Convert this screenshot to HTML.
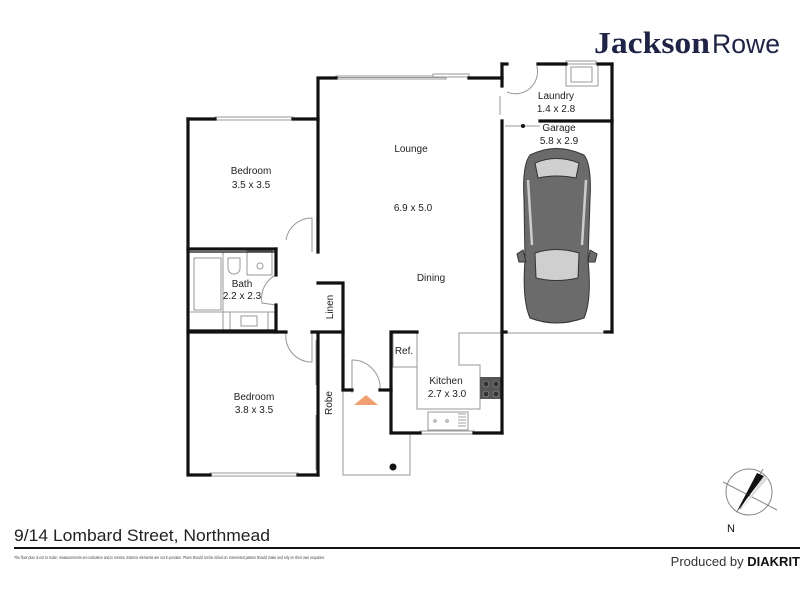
<!DOCTYPE html>
<html><head><meta charset="utf-8"><style>
html,body{margin:0;padding:0;background:#fff;width:800px;height:600px;overflow:hidden}
svg{display:block}
text{font-family:"Liberation Sans",Arial,sans-serif}
</style></head><body>
<svg width="800" height="600" viewBox="0 0 800 600" xmlns="http://www.w3.org/2000/svg">
<!-- Logo -->
<text x="594" y="53" font-weight="bold" font-size="31" fill="#1f2446" textLength="116" lengthAdjust="spacingAndGlyphs" style="font-family:'Liberation Serif',serif">Jackson</text>
<text x="712" y="53" font-size="27" fill="#1f2446" textLength="68" lengthAdjust="spacingAndGlyphs">Rowe</text>

<!-- thin interior/fixture lines -->
<g fill="none" stroke="#999" stroke-width="1">
  <rect x="336" y="76" width="110" height="3" fill="#fff"/>
  <line x1="336" y1="77.5" x2="446" y2="77.5"/>
  <rect x="433" y="74" width="36" height="3" fill="#fff"/>
  <rect x="215" y="117" width="78" height="3" fill="#fff"/>
  <rect x="210" y="473" width="88" height="3" fill="#fff"/>
  <rect x="420" y="431" width="54" height="3" fill="#fff"/>
  <rect x="566" y="61" width="30" height="3" fill="#fff"/>
  <path d="M507 92 A22 22 0 0 0 537 67"/>
  <line x1="537" y1="66" x2="537" y2="67"/>
  <line x1="500" y1="96" x2="500" y2="115"/>
  <rect x="566" y="64" width="32" height="22"/>
  <rect x="571" y="67" width="21" height="15"/>
  <line x1="505" y1="126" x2="540" y2="126"/>
  <path d="M286 240 A26 26 0 0 1 312 218 L312 252"/>
  <path d="M276 275 A26 26 0 0 0 262 303 L276 305"/>
  <rect x="194" y="258" width="27" height="52"/>
  <path d="M228 258 v10 a6 6 0 0 0 12 0 v-10 z"/>
  <rect x="247" y="251" width="25" height="24"/>
  <circle cx="260" cy="266" r="3"/>
  <rect x="230" y="312" width="38" height="18"/>
  <rect x="241" y="316" width="16" height="10"/>
  <line x1="190" y1="312" x2="276" y2="312"/>
  <line x1="223" y1="252" x2="223" y2="330"/>
  <path d="M286 333 A26 26 0 0 0 312 362 L312 333"/>
  <line x1="316" y1="340" x2="316" y2="385"/>
  <line x1="318" y1="340" x2="318" y2="385"/>
  <line x1="316" y1="415" x2="316" y2="470"/>
  <line x1="318" y1="415" x2="318" y2="470"/>
  <path d="M352 393 L352 360 A28 28 0 0 1 380 390"/>
  <polyline points="343,390 343,475 410,475 410,433"/>
  <rect x="393" y="332" width="24" height="35"/>
  <polyline points="417,367 417,409 480,409 480,365 459,365 459,333 502,333"/>
  <rect x="428" y="412" width="40" height="18"/>
  <circle cx="435" cy="421" r="1.3"/><circle cx="447" cy="421" r="1.3"/>
  <line x1="506" y1="333" x2="606" y2="333"/>
</g>
<rect x="480" y="377" width="22" height="22" fill="#555"/>
<g fill="#333" stroke="#999" stroke-width="0.6"><circle cx="486" cy="384" r="3"/><circle cx="496" cy="384" r="3"/><circle cx="486" cy="394" r="3"/><circle cx="496" cy="394" r="3"/></g>
<g stroke="#888" stroke-width="0.8"><line x1="458" y1="414" x2="466" y2="414"/><line x1="458" y1="417" x2="466" y2="417"/><line x1="458" y1="420" x2="466" y2="420"/><line x1="458" y1="423" x2="466" y2="423"/><line x1="458" y1="426" x2="466" y2="426"/></g>
<circle cx="393" cy="467" r="3.5" fill="#111"/>
<circle cx="523" cy="126" r="2" fill="#111"/>
<polygon points="354,405 366,395 378,405" fill="#f0a070"/>

<!-- thick walls -->
<g fill="none" stroke="#111" stroke-width="3.2" stroke-linecap="square">
  <polyline points="318,252 318,78 336,78"/>
  <line x1="469" y1="78" x2="502" y2="78"/>
  <line x1="502" y1="64" x2="502" y2="86"/>
  <line x1="502" y1="64" x2="507" y2="64"/>
  <line x1="538" y1="64" x2="566" y2="64"/>
  <line x1="598" y1="64" x2="612" y2="64"/>
  <line x1="612" y1="64" x2="612" y2="122"/>
  <line x1="540" y1="121" x2="612" y2="121"/>
  <line x1="502" y1="121" x2="502" y2="433"/>
  <line x1="612" y1="121" x2="612" y2="332"/>
  <line x1="502" y1="332" x2="506" y2="332"/>
  <line x1="605" y1="332" x2="612" y2="332"/>
  <polyline points="188,119 188,475 210,475"/>
  <line x1="188" y1="119" x2="215" y2="119"/>
  <line x1="293" y1="119" x2="318" y2="119"/>
  <line x1="298" y1="475" x2="318" y2="475"/>
  <line x1="318" y1="333" x2="318" y2="475"/>
  <line x1="188" y1="249" x2="276" y2="249"/>
  <line x1="276" y1="249" x2="276" y2="275"/>
  <line x1="276" y1="305" x2="276" y2="332"/>
  <line x1="188" y1="332" x2="286" y2="332"/>
  <line x1="312" y1="332" x2="343" y2="332"/>
  <polyline points="318,283 343,283 343,390 352,390"/>
  <line x1="380" y1="390" x2="391" y2="390"/>
  <polyline points="417,332 391,332 391,433 420,433"/>
  <line x1="474" y1="433" x2="502" y2="433"/>
</g>
<g fill="none" stroke="#111" stroke-width="1.3"><line x1="188" y1="330" x2="276" y2="330"/><line x1="188" y1="252" x2="276" y2="252"/></g>

<!-- car -->
<g stroke="#333" stroke-width="1">
  <path d="M530 155 Q556 142 584 155 Q592 165 590 200 L588 260 Q592 300 584 318 Q556 328 530 318 Q522 300 525 260 L524 200 Q522 165 530 155 Z" fill="#6b6b6b"/>
  <path d="M535 163 Q556 154 579 163 L576 178 Q556 174 538 178 Z" fill="#cfcfcf"/>
  <path d="M535 253 Q556 246 579 253 L578 278 Q556 283 536 278 Z" fill="#cfcfcf"/>
  <path d="M523 250 L517 254 L519 262 L526 262 Z M590 250 L597 254 L595 262 L588 262 Z" fill="#6b6b6b"/>
  <path d="M528 180 L532 245 M586 180 L582 245" fill="none" stroke="#ccc" stroke-width="2.5"/>
</g>

<!-- labels -->
<g font-size="10" fill="#222" text-anchor="middle">
  <text x="411" y="152">Lounge</text>
  <text x="413" y="211">6.9 x 5.0</text>
  <text x="431" y="281">Dining</text>
  <text x="251" y="174">Bedroom</text>
  <text x="251" y="188">3.5 x 3.5</text>
  <text x="242" y="287">Bath</text>
  <text x="242" y="299">2.2 x 2.3</text>
  <text x="254" y="400">Bedroom</text>
  <text x="254" y="413">3.8 x 3.5</text>
  <text x="446" y="384">Kitchen</text>
  <text x="447" y="397">2.7 x 3.0</text>
  <text x="404" y="354">Ref.</text>
  <text x="556" y="99">Laundry</text>
  <text x="556" y="112">1.4 x 2.8</text>
  <text x="559" y="131">Garage</text>
  <text x="559" y="144">5.8 x 2.9</text>
  <text transform="translate(333,307) rotate(-90)">Linen</text>
  <text transform="translate(332,403) rotate(-90)">Robe</text>
</g>

<!-- compass -->
<g stroke="#888" stroke-width="1" fill="none">
  <circle cx="749" cy="492" r="23"/>
  <line x1="723" y1="482" x2="777" y2="510"/>
  <line x1="763" y1="469" x2="740" y2="509"/>
</g>
<polygon points="757,473 764,476 736,513" fill="#111"/>
<polygon points="764,476 768,478 740,511" fill="#ddd"/>
<text x="727" y="532" font-size="11" fill="#111">N</text>

<!-- footer -->
<text x="14" y="541" font-size="17" fill="#222" textLength="256" lengthAdjust="spacingAndGlyphs">9/14 Lombard Street, Northmead</text>
<line x1="14" y1="548" x2="800" y2="548" stroke="#111" stroke-width="2"/>
<text x="14" y="559" font-size="4.2" fill="#444" textLength="311" lengthAdjust="spacingAndGlyphs">The floor plan is not to scale; measurements are indicative and in metres. Exterior elements are not in position. Plans should not be relied on. Interested parties should make and rely on their own enquiries.</text>
<text x="800" y="566" font-size="13" fill="#333" text-anchor="end">Produced by <tspan font-weight="bold" fill="#111">DIAKRIT</tspan></text>
</svg>
</body></html>
